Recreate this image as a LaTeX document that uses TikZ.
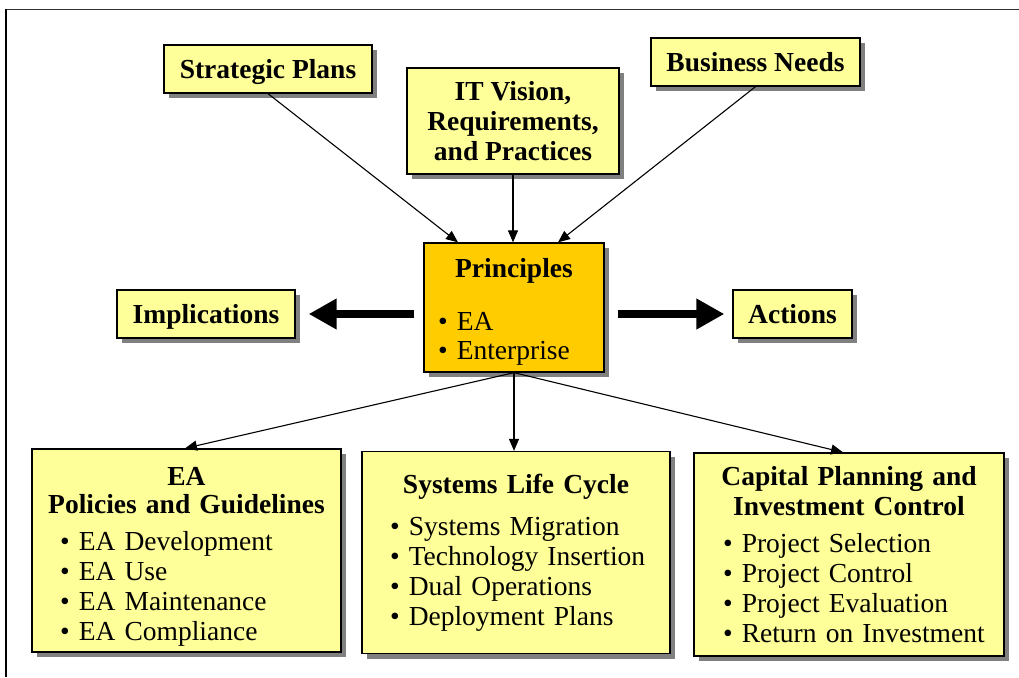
\documentclass[tikz,border=0pt]{standalone}
\usepackage{fontspec}
\setmainfont{Liberation Serif}
\usetikzlibrary{arrows.meta,shadows,calc}
\definecolor{boxyellow}{HTML}{FFFF99}
\definecolor{princ}{HTML}{FFCC00}
\definecolor{shadowgray}{HTML}{808080}
\tikzset{
  box/.style={draw=black, line width=1.3pt, fill=boxyellow, inner sep=0pt,
    drop shadow={shadow xshift=5pt, shadow yshift=-5pt, fill=shadowgray, opacity=1},
    font=\fontsize{27.5}{30}\selectfont},
  onebox/.style={box, font=\fontsize{27.5}{30}\selectfont\bfseries, text height=22pt, text depth=3pt},
  conn/.style={line width=1.1pt, -{Triangle[length=12pt,width=10pt]}},
  bigarrow/.style={line width=8pt, -{Triangle[length=28pt,width=29pt]}},
  frameline/.style={line width=1.5pt}
}
\begin{document}
\begin{tikzpicture}[x=1pt,y=-1pt]
\useasboundingbox (0,0) rectangle (1019,677);
\draw[frameline, black!80] (5,9.5) -- (1019,9.5);
\draw[frameline, black] (6,9.5) -- (6,677);

% top boxes
\node[onebox, minimum width=208pt, minimum height=48pt] (sp) at (268,69) {Strategic Plans};
\node[box, font=\fontsize{27.5}{30}\selectfont\bfseries, align=center, minimum width=212pt, minimum height=106pt] (itv) at (513,121) {IT Vision,\\Requirements,\\and Practices};
\node[onebox, minimum width=209pt, minimum height=48pt] (bn) at (755.5,62) {Business Needs};

% principles
\node[box, fill=princ, text width=180pt, minimum height=129pt] (pr) at (514,307.5) {%
  {\centering\bfseries\rule{0pt}{27pt}Principles\par}\vspace{23pt}%
  \leftskip=14pt \textbullet\ EA\\[-1pt]\textbullet\ Enterprise\par};

\node[onebox, minimum width=178pt, minimum height=48pt] (impl) at (206,314) {Implications};
\node[onebox, minimum width=119pt, minimum height=48pt] (act) at (792.5,314) {Actions};

% bottom boxes
\node[box, text width=309pt, minimum height=203pt] (ea) at (186.5,550.5) {%
  {\centering\bfseries\rule{0pt}{30pt}EA\\[-2pt]Policies and Guidelines\par}\vspace{7pt}%
  \leftskip=28pt \textbullet\ EA Development\\\textbullet\ EA Use\\\textbullet\ EA Maintenance\\\textbullet\ EA Compliance\par};
\node[box, text width=308pt, minimum height=202pt] (slc) at (516,552.5) {%
  {\centering\bfseries Systems Life Cycle\par}\vspace{12pt}%
  \leftskip=28pt \textbullet\ Systems Migration\\\textbullet\ Technology Insertion\\\textbullet\ Dual Operations\\\textbullet\ Deployment Plans\par};
\node[box, text width=310pt, minimum height=203pt] (cap) at (849,554.5) {%
  {\centering\bfseries Capital Planning and\\Investment Control\par}\vspace{7pt}%
  \leftskip=29pt \textbullet\ Project Selection\\\textbullet\ Project Control\\\textbullet\ Project Evaluation\\\textbullet\ Return on Investment\par};

% connectors
\draw[conn] (sp.south) -- ($(pr.north)+(-56,0)$);
\draw[conn] (itv.south) -- (itv.south |- pr.north);
\draw[conn] (bn.south) -- ($(pr.north)+(44,0)$);
\draw[conn] (pr.south) -- ($(ea.north)+(-1.5,0)$);
\draw[conn] (pr.south) -- (pr.south |- slc.north);
\draw[conn] (pr.south) -- ($(cap.north)+(-6,0)$);

\draw[bigarrow, shorten <=9pt, shorten >=13pt] (pr.west |- impl.east) -- (impl.east);
\draw[bigarrow, shorten <=13pt, shorten >=8pt] (pr.east |- act.west) -- (act.west);
\end{tikzpicture}
\end{document}
